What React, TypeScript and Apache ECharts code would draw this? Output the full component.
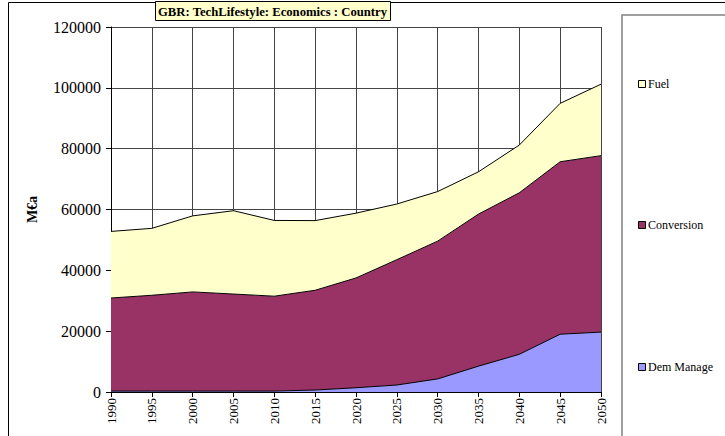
import React, { useEffect, useRef } from "react";
import * as echarts from "echarts";

const years = ["1990", "1995", "2000", "2005", "2010", "2015", "2020", "2025", "2030", "2035", "2040", "2045", "2050"];
const demManage = [300, 300, 300, 300, 300, 650, 1400, 2300, 4300, 8500, 12400, 19000, 19700];
const conversion = [30600, 31500, 32600, 31900, 31200, 32800, 36100, 41200, 45300, 50000, 53100, 56700, 58000];
const fuel = [21900, 22000, 25000, 27400, 24900, 22900, 21300, 18300, 16300, 13900, 15700, 19200, 23500];

const seriesNames = ["Dem Manage", "Conversion", "Fuel"];
const seriesColors = ["#9999FF", "#993366", "#FFFFCC"];
const legendYs = [367, 225, 84];

const FONT = "Liberation Serif";

export default function App() {
  const ref = useRef<HTMLDivElement>(null);
  useEffect(() => {
    document.body.style.margin = "0";
    const chart = echarts.init(ref.current!, null, { renderer: "svg" });
    const mk = (name: string, data: number[], color: string) => ({
      name,
      type: "line",
      stack: "total",
      data,
      symbol: "none",
      lineStyle: { color: "#000", width: 1 },
      itemStyle: { color, borderColor: "#000", borderWidth: 1 },
      areaStyle: { color, opacity: 1 },
    });
    const legendGraphics: any[] = [];
    seriesNames.forEach((n, i) => {
      legendGraphics.push({
        type: "rect",
        shape: { x: 638.5, y: legendYs[i] - 3.5, width: 7, height: 7 },
        style: { fill: seriesColors[i], stroke: "#000", lineWidth: 1 },
        silent: true,
      });
      legendGraphics.push({
        type: "text",
        x: 648,
        y: legendYs[i],
        style: { text: n, fontFamily: FONT, fontSize: 12, fill: "#000", verticalAlign: "middle", align: "left" },
        silent: true,
      });
    });
    chart.setOption({
      animation: false,
      backgroundColor: "#fff",
      textStyle: { fontFamily: FONT },
      title: {
        text: "GBR: TechLifestyle: Economics : Country",
        left: 155,
        top: 1,
        padding: [4, 3, 3, 3],
        backgroundColor: "#FFFFCC",
        borderColor: "#000",
        borderWidth: 1,
        textStyle: { fontFamily: FONT, fontSize: 12.7, fontWeight: "bold", color: "#000" },
      },
      graphic: [
        { type: "rect", shape: { x: 8.5, y: 2.5, width: 800, height: 500 }, style: { fill: "none", stroke: "#000", lineWidth: 1 }, silent: true, z: -10 },
        { type: "rect", shape: { x: 622, y: 15, width: 200, height: 500 }, style: { fill: "none", stroke: "#808080", lineWidth: 1.5 }, silent: true, z: -10 },
        ...legendGraphics,
      ],
      grid: { left: 111, top: 27, right: 124, bottom: 44, containLabel: false },
      xAxis: {
        type: "category",
        data: years,
        boundaryGap: false,
        axisLine: { lineStyle: { color: "#000", width: 1 } },
        axisTick: { show: true, length: 5, lineStyle: { color: "#000" } },
        axisLabel: { rotate: 90, fontFamily: FONT, fontSize: 13, color: "#000", margin: 6 },
        splitLine: { show: true, lineStyle: { color: "#444", width: 1 } },
      },
      yAxis: {
        type: "value",
        min: 0,
        max: 120000,
        interval: 20000,
        name: "M€a",
        nameLocation: "middle",
        nameGap: 72,
        nameRotate: 90,
        nameTextStyle: { fontFamily: FONT, fontSize: 14, fontWeight: "bold", color: "#000" },
        axisLine: { show: true, lineStyle: { color: "#000", width: 1 } },
        axisTick: { show: true, length: 5, lineStyle: { color: "#000" } },
        axisLabel: { fontFamily: FONT, fontSize: 16, color: "#000", margin: 10, formatter: (v: number) => String(v) },
        splitLine: { show: true, lineStyle: { color: "#444", width: 1 } },
      },
      series: seriesNames.map((n, i) => mk(n, [demManage, conversion, fuel][i], seriesColors[i])),
    });
    return () => chart.dispose();
  }, []);
  return <div ref={ref} style={{ width: 725, height: 436 }} />;
}
